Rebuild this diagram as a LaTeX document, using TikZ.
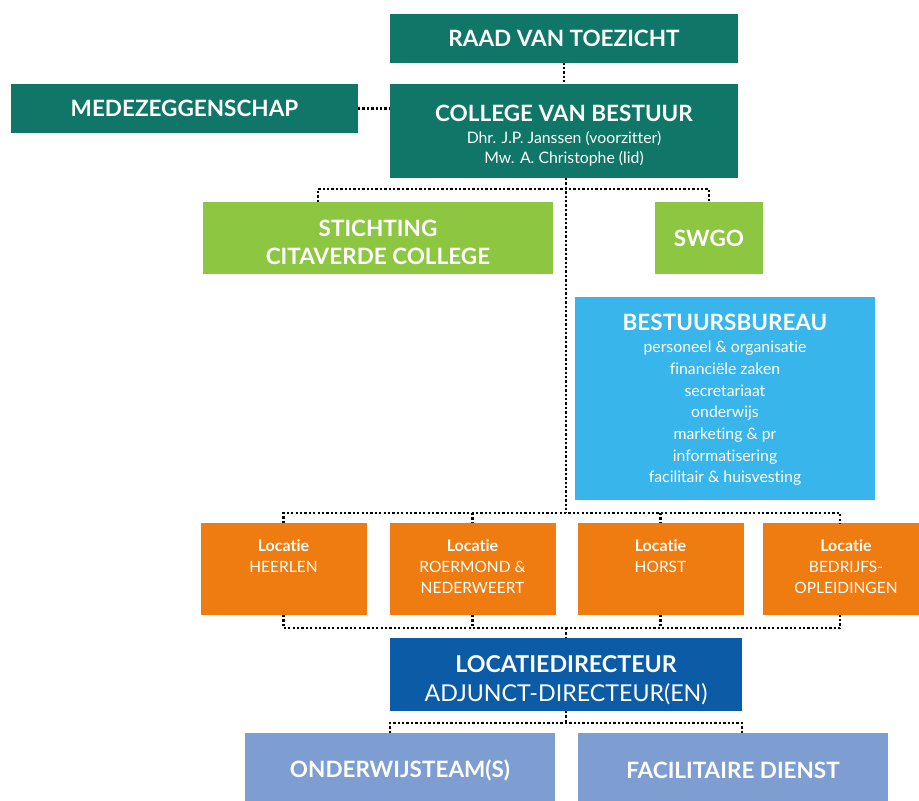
\documentclass[tikz,border=0pt]{standalone}
\usepackage{fontspec}
\setmainfont[Ligatures=NoCommon]{Lato}
\usetikzlibrary{positioning}
\definecolor{cvbteal}{HTML}{0F7668}
\definecolor{citagreen}{HTML}{8DC641}
\definecolor{bureaublue}{HTML}{38B5EA}
\definecolor{locorange}{HTML}{EE7C11}
\definecolor{dirblue}{HTML}{0B5BA6}
\definecolor{teamblue}{HTML}{7E9ED2}
\newcommand\orgtitle{\fontsize{22.5}{28}\selectfont\bfseries}
\newcommand\orgsub{\fontsize{15.8}{20}\selectfont}
\newcommand\orgitem{\fontsize{15.8}{21.7}\selectfont}
\newcommand\loctitle{\fontsize{15.5}{21}\selectfont}
\tikzset{
  orgbox/.style={inner sep=0pt, outer sep=0pt, text=white, align=center},
  locbox/.style={orgbox, fill=locorange, minimum width=166pt, minimum height=92pt},
  teambox/.style={orgbox, fill=teamblue, minimum width=310pt, minimum height=74pt, font=\orgtitle},
  link/.style={draw=black, line width=2.3pt, dash pattern=on 2.3pt off 2.1pt},
}
\begin{document}
\begin{tikzpicture}[x=1pt, y=1pt, yscale=-1, inner sep=0pt, outer sep=0pt]
\useasboundingbox (0,0) rectangle (919,801);
\node[orgbox, fill=cvbteal, minimum width=348pt, minimum height=49pt, font=\orgtitle] (rvt) at (564,38) {RAAD VAN TOEZICHT};
\node[orgbox, fill=cvbteal, minimum width=347pt, minimum height=49pt, font=\orgtitle] (mz) at (184.5,108.5) {MEDEZEGGENSCHAP};
\node[orgbox, fill=cvbteal, minimum width=348pt, minimum height=94pt] (cvb) at (564,131) {};
\node[orgbox, font=\orgsub, below=4.5pt of cvb.center, anchor=center] (cvb-text)
  {{\orgtitle COLLEGE VAN BESTUUR}\\[2pt]Dhr. J.P. Janssen (voorzitter)\\Mw. A. Christophe (lid)};
\node[orgbox, fill=citagreen, minimum width=350pt, minimum height=72pt] (stichting) at (378,238) {};
\node[orgbox, font=\orgtitle, below=4pt of stichting.center, anchor=center] (stichting-text) {STICHTING\\CITAVERDE COLLEGE};
\node[orgbox, fill=citagreen, minimum width=108pt, minimum height=72pt, font=\orgtitle] (swgo) at (709,238) {SWGO};
\node[orgbox, fill=bureaublue, minimum width=300pt, minimum height=203pt] (bureau) at (725,398.5) {};
\node[orgbox, font=\orgitem, below=1.5pt of bureau.center, anchor=center] (bureau-text)
  {{\orgtitle BESTUURSBUREAU}\\[0.3pt]personeel \& organisatie\\financiële zaken\\secretariaat\\onderwijs\\marketing \& pr\\informatisering\\facilitair \& huisvesting};
\node[locbox] (heerlen) at (283.5,569) {};
\node[locbox] (roermond) at (472.5,569) {};
\node[locbox] (horst) at (660.5,569) {};
\node[locbox] (bedrijf) at (846,569) {};
\foreach \loc/\name in {heerlen/HEERLEN, roermond/{ROERMOND \&\\NEDERWEERT}, horst/HORST, bedrijf/{BEDRIJFS-\\OPLEIDINGEN}}
  \node[orgbox, font=\loctitle, anchor=north, below=16.5pt of \loc.north] (\loc-text) {{\fontsize{16}{21}\selectfont\bfseries Locatie}\\\name};
\node[orgbox, fill=dirblue, minimum width=352pt, minimum height=73pt] (dir) at (566,674.5) {};
\node[orgbox, font=\fontsize{23.2}{29}\selectfont, below=5.5pt of dir.center, anchor=center] (dir-text)
  {\textbf{LOCATIEDIRECTEUR}\\ADJUNCT-DIRECTEUR(EN)};
\node[teambox] (onderwijs) at (400,770) {ONDERWIJSTEAM(S)};
\node[teambox] (facilitair) at (733,770) {FACILITAIRE DIENST};
\coordinate (topbus) at (566,189);
\coordinate (stichtingtap) at ([xshift=-60pt]stichting.north);
\coordinate (bedrijftap) at ([xshift=-6pt]bedrijf.north);
\coordinate (locbus) at (566,513);
\coordinate (dirbus) at (566,628);
\coordinate (teambus) at (566,723);
\path[link] (rvt.south) -- (rvt.south |- cvb.north);
\path[link] (mz.east) -- (cvb.west |- mz.east);
\path[link] (cvb.south -| topbus) -- (locbus);
\path[link] (stichtingtap) -- (stichtingtap |- topbus) -- (swgo.north |- topbus) -- (swgo.north);
\path[link] (heerlen.north) -- (heerlen.north |- locbus) -- (bedrijftap |- locbus) -- (bedrijftap);
\foreach \loc in {roermond, horst}
  \path[link] (\loc.north |- locbus) -- (\loc.north);
\path[link] (heerlen.south) -- (heerlen.south |- dirbus) -- (bedrijftap |- dirbus) -- (bedrijftap |- bedrijf.south);
\foreach \loc in {roermond, horst}
  \path[link] (\loc.south) -- (\loc.south |- dirbus);
\path[link] (dirbus) -- (dir.north);
\path[link] (dir.south) -- (teambus);
\path[link] (dir.south west |- onderwijs.north) -- (dir.south west |- teambus) -- (dir.south east |- teambus) -- (dir.south east |- facilitair.north);
\end{tikzpicture}
\end{document}
